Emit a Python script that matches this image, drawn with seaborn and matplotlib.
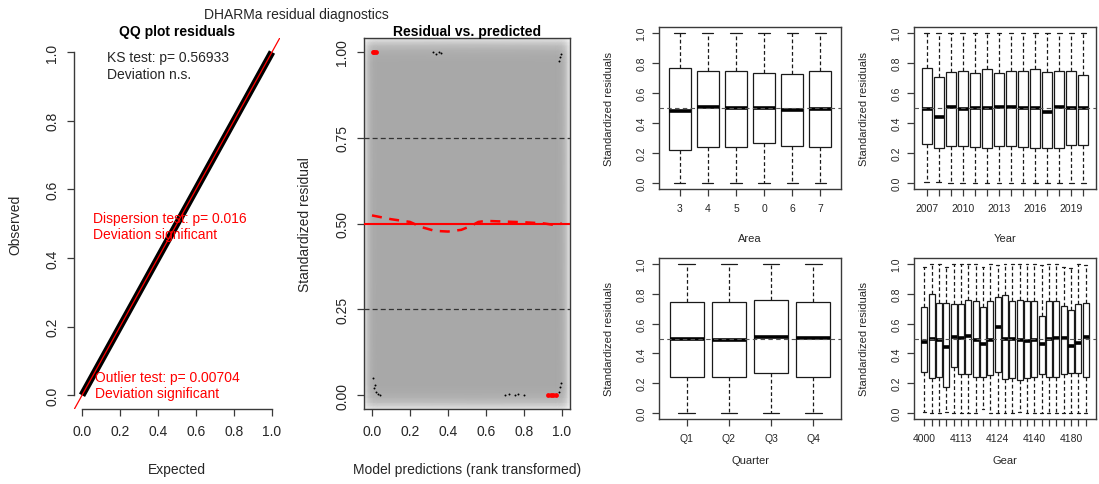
import matplotlib
matplotlib.use("Agg")
import matplotlib.pyplot as plt
import seaborn as sns
import pandas as pd
import numpy as np

sns.set_theme(style="ticks")
plt.rcParams['font.family'] = ['Liberation Sans', 'DejaVu Sans']

W, H = 1099, 485

# ---- QQ plot residuals
qq_expected = [0.0, 0.25, 0.5, 0.75, 1.0]
qq_observed = [0.0, 0.25, 0.5, 0.75, 1.0]

# ---- Residual vs. predicted
quant_x = [0.0, 0.1, 0.2, 0.26, 0.33, 0.4, 0.47, 0.52, 0.56, 0.6, 0.7, 0.8, 0.9, 0.95, 1.0]
quant_y = [0.524, 0.513, 0.505, 0.49, 0.479, 0.477, 0.482, 0.493, 0.505, 0.508, 0.506, 0.504, 0.501, 0.497, 0.5]
# low density points left by smoothScatter
low_x = [0.003, 0.01, 0.02, 0.03, 0.015, 0.04, 0.32, 0.335, 0.35, 0.365,
         0.70, 0.72, 0.75, 0.77, 0.80, 0.985, 0.99, 0.995, 0.99, 0.985, 0.995]
low_y = [0.05, 0.02, 0.01, 0.005, 0.03, 0.002, 1.0, 0.995, 1.0, 0.997,
         0.0, 0.004, 0.0, 0.003, 0.0, 0.01, 0.025, 0.035, 0.985, 0.975, 0.995]
# outliers (red)
out_x = [0.004, 0.012, 0.02, 0.925, 0.94, 0.955, 0.97]
out_y = [1.0, 1.0, 1.0, 0.0, 0.0, 0.0, 0.0]
# density shading profile of the smoothScatter background (edge fade)
dens_pos = [-0.04, -0.03, -0.02, -0.005, 0.01, 0.03, 0.97, 0.99, 1.005, 1.02, 1.03, 1.04]
dens_val = [0.35, 0.55, 0.75, 0.9, 0.97, 1.0, 1.0, 0.97, 0.9, 0.75, 0.55, 0.35]

# ---- Boxplots: Area
area_labels = ["3", "4", "5", "0", "6", "7"]
area_lo = [0.0, 0.0, 0.0, 0.0, 0.0, 0.0]
area_q1 = [0.223, 0.243, 0.239, 0.264, 0.25, 0.239]
area_med = [0.482, 0.507, 0.498, 0.502, 0.486, 0.493]
area_q3 = [0.764, 0.75, 0.75, 0.732, 0.727, 0.75]
area_hi = [1.0, 1.0, 1.0, 1.0, 1.0, 1.0]

# ---- Year
year_labels = ["2007", "2008", "2009", "2010", "2011", "2012", "2013",
               "2014", "2015", "2016", "2017", "2018", "2019", "2020"]
year_lo = [0.01, 0.01, 0.0, 0.0, 0.0, 0.0, 0.0, 0.0, 0.0, 0.0, 0.0, 0.0, 0.0, 0.0]
year_q1 = [0.261, 0.232, 0.245, 0.245, 0.241, 0.236, 0.245, 0.245, 0.241, 0.236, 0.232, 0.236, 0.254, 0.254]
year_med = [0.493, 0.441, 0.507, 0.491, 0.498, 0.498, 0.507, 0.507, 0.498, 0.498, 0.473, 0.509, 0.498, 0.498]
year_q3 = [0.764, 0.709, 0.741, 0.748, 0.734, 0.759, 0.734, 0.748, 0.75, 0.759, 0.741, 0.745, 0.745, 0.718]
year_hi = [1.0] * 14

# ---- Quarter
quarter_labels = ["Q1", "Q2", "Q3", "Q4"]
quarter_lo = [0.0, 0.0, 0.0, 0.0]
quarter_q1 = [0.245, 0.239, 0.266, 0.245]
quarter_med = [0.498, 0.491, 0.509, 0.502]
quarter_q3 = [0.743, 0.743, 0.761, 0.748]
quarter_hi = [1.0, 1.0, 1.0, 1.0]

# ---- Gear
gear_labels = ["4000", "4011", "4013", "4100", "4110", "4113", "4115", "4117",
               "4120", "4122", "4124", "4126", "4130", "4132", "4136", "4140",
               "4150", "4160", "4170", "4175", "4180", "4185", "4190"]
gear_lo = [0.01, 0.0, 0.0, 0.01, 0.0, 0.0, 0.0, 0.0, 0.03, 0.0, 0.0, 0.0,
           0.0, 0.01, 0.0, 0.0, 0.0, 0.0, 0.0, 0.0, 0.0, 0.0, 0.0]
gear_q1 = [0.275, 0.236, 0.245, 0.178, 0.309, 0.264, 0.264, 0.245, 0.241, 0.252, 0.275, 0.23,
           0.236, 0.223, 0.236, 0.245, 0.264, 0.245, 0.245, 0.259, 0.268, 0.268, 0.245]
gear_med = [0.477, 0.498, 0.493, 0.444, 0.511, 0.502, 0.52, 0.493, 0.466, 0.493, 0.574, 0.5,
            0.5, 0.493, 0.482, 0.489, 0.466, 0.498, 0.502, 0.502, 0.448, 0.471, 0.511]
gear_q3 = [0.71, 0.80, 0.74, 0.74, 0.73, 0.73, 0.76, 0.75, 0.71, 0.75, 0.78, 0.79,
           0.75, 0.76, 0.75, 0.75, 0.65, 0.75, 0.75, 0.72, 0.69, 0.73, 0.74]
gear_hi = [0.98, 1.0, 1.0, 0.98, 1.0, 1.0, 1.0, 1.0, 0.98, 1.0, 0.99, 1.0,
           1.0, 1.0, 1.0, 1.0, 0.99, 1.0, 1.0, 0.98, 0.97, 1.0, 0.99]

TXT = "#262626"
LINE = "#3a3a3a"

fig = plt.figure(figsize=(W / 100, H / 100), dpi=100)


def px_axes(left, top, right, bottom):
    return fig.add_axes([left / W, 1 - bottom / H, (right - left) / W, (bottom - top) / H])


def style_axes(ax, fs, pad_x, pad_y):
    ax.tick_params(axis="both", direction="out", length=5, width=0.9, color=LINE,
                   labelcolor=TXT, labelsize=fs)
    ax.tick_params(axis="x", pad=pad_x)
    ax.tick_params(axis="y", pad=pad_y)
    for lab in ax.get_yticklabels():
        lab.set_rotation(90)
        lab.set_va("center")
    for sp in ax.spines.values():
        sp.set_color(LINE)
        sp.set_linewidth(1.0)


def set_labels(ax, xlab, ylab, fs, xfrac, yfrac):
    ax.set_xlabel(xlab, fontsize=fs, color=TXT)
    ax.set_ylabel(ylab, fontsize=fs, color=TXT)
    ax.xaxis.set_label_coords(0.5, xfrac)
    ax.yaxis.set_label_coords(yfrac, 0.5)
    ax.xaxis.label.set_va("center")
    ax.yaxis.label.set_va("center")


# ================= QQ plot =================
ax1 = px_axes(74.4, 39.3, 279.6, 410)
sns.lineplot(x=qq_expected, y=qq_observed, color="black", linewidth=5,
             solid_capstyle="butt", ax=ax1)
ax1.axline((0, 0), (1, 1), color="red", linewidth=0.9)
ax1.set_xlim(-0.04, 1.04)
ax1.set_ylim(-0.04, 1.04)
ticks = [0.0, 0.2, 0.4, 0.6, 0.8, 1.0]
ax1.set_xticks(ticks)
ax1.set_yticks(ticks)
ax1.set_xticklabels([f"{t:.1f}" for t in ticks])
ax1.set_yticklabels([f"{t:.1f}" for t in ticks])
ax1.spines["top"].set_visible(False)
ax1.spines["right"].set_visible(False)
ax1.spines["left"].set_bounds(0, 1)
ax1.spines["bottom"].set_bounds(0, 1)
style_axes(ax1, 10, 6, 6)
set_labels(ax1, "Expected", "Observed", 10, -0.162, -0.289)
ax1.set_title("QQ plot residuals", fontsize=10, fontweight="bold", color="black", pad=2)
ax1.text(0.13, 1.005, "KS test: p= 0.56933\nDeviation n.s.", fontsize=10,
         color=TXT, va="top", ha="left")
ax1.text(0.058, 0.536, "Dispersion test: p= 0.016\nDeviation significant", fontsize=10,
         color="red", va="top", ha="left")
ax1.text(0.07, 0.075, "Outlier test: p= 0.00704\nDeviation significant", fontsize=10,
         color="red", va="top", ha="left")

# ================= Residual vs predicted =================
ax2 = px_axes(364.4, 39.3, 569.6, 410)
dens = np.array(dens_val)
shade = 1 - 0.34 * np.outer(dens, dens)
gx, gy = np.meshgrid(dens_pos, dens_pos)
ax2.pcolormesh(gx, gy, shade, shading="gouraud", cmap="gray", vmin=0, vmax=1, zorder=0)
for q in (0.25, 0.75):
    ax2.axhline(q, color="#333333", linestyle=(0, (4, 2.5)), linewidth=0.9, zorder=2)
ax2.axhline(0.5, color="red", linewidth=1.5, zorder=3)
sns.lineplot(x=quant_x, y=quant_y, color="red", linewidth=1.8, linestyle=(0, (4, 3)),
             ax=ax2, zorder=4)
sns.scatterplot(x=low_x, y=low_y, s=2, color="black", linewidth=0, ax=ax2, zorder=5)
sns.scatterplot(x=out_x, y=out_y, s=12, color="red", linewidth=0, ax=ax2, zorder=6)
ax2.set_xlim(-0.04, 1.04)
ax2.set_ylim(-0.04, 1.04)
ax2.set_xticks(ticks)
ax2.set_xticklabels([f"{t:.1f}" for t in ticks])
rticks = [0.0, 0.25, 0.5, 0.75, 1.0]
ax2.set_yticks(rticks)
ax2.set_yticklabels([f"{t:.2f}" for t in rticks])
style_axes(ax2, 10, 6, 6)
set_labels(ax2, "Model predictions (rank transformed)", "Standardized residual", 10, -0.162, -0.289)
ax2.set_title("Residual vs. predicted", fontsize=10, fontweight="bold", color="black", pad=2)

fig.text(296 / W, 1 - 15 / H, "DHARMa residual diagnostics", fontsize=10, color=TXT,
         ha="center", va="center")


# ================= Boxplots =================
def five_num_frame(labels, lo, q1, med, q3, hi):
    rows = []
    for i, lab in enumerate(labels):
        for v in (lo[i], q1[i], med[i], q3[i], hi[i]):
            rows.append((lab, v))
    return pd.DataFrame(rows, columns=["group", "resid"])


def box_panel(rect, labels, lo, q1, med, q3, hi, xlab, every, xfrac):
    ax = px_axes(*rect)
    df = five_num_frame(labels, lo, q1, med, q3, hi)
    sns.boxplot(data=df, x="group", y="resid", order=labels, whis=(0, 100), width=0.8,
                color="white", linecolor="#1a1a1a", linewidth=0.9,
                medianprops=dict(linewidth=2.6, color="black"),
                whiskerprops=dict(linestyle=(0, (3, 2))), ax=ax)
    ax.axhline(0.5, color="#555555", linestyle=(0, (4, 3)), linewidth=0.8, zorder=10)
    n = len(labels)
    ax.set_xlim(-0.5 - 0.04 * n, n - 0.5 + 0.04 * n)
    ax.set_ylim(-0.04, 1.04)
    ax.set_xticks(range(n))
    ax.set_xticklabels([lab if i % every == 0 else "" for i, lab in enumerate(labels)])
    ax.set_yticks(ticks)
    ax.set_yticklabels([f"{t:.1f}" for t in ticks])
    style_axes(ax, 7.5, 5, 4)
    set_labels(ax, xlab, "Standardized residuals", 8, xfrac, -0.275)
    return ax


box_panel((659, 28, 841, 190), area_labels, area_lo, area_q1, area_med, area_q3, area_hi,
          "Area", 1, -0.302)
box_panel((914, 28, 1096, 190), year_labels, year_lo, year_q1, year_med, year_q3, year_hi,
          "Year", 3, -0.302)
box_panel((659, 259, 841, 420), quarter_labels, quarter_lo, quarter_q1, quarter_med,
          quarter_q3, quarter_hi, "Quarter", 1, -0.255)
box_panel((914, 259, 1096, 420), gear_labels, gear_lo, gear_q1, gear_med, gear_q3, gear_hi,
          "Gear", 5, -0.255)

fig.savefig("out.png", dpi=100, facecolor="white")
